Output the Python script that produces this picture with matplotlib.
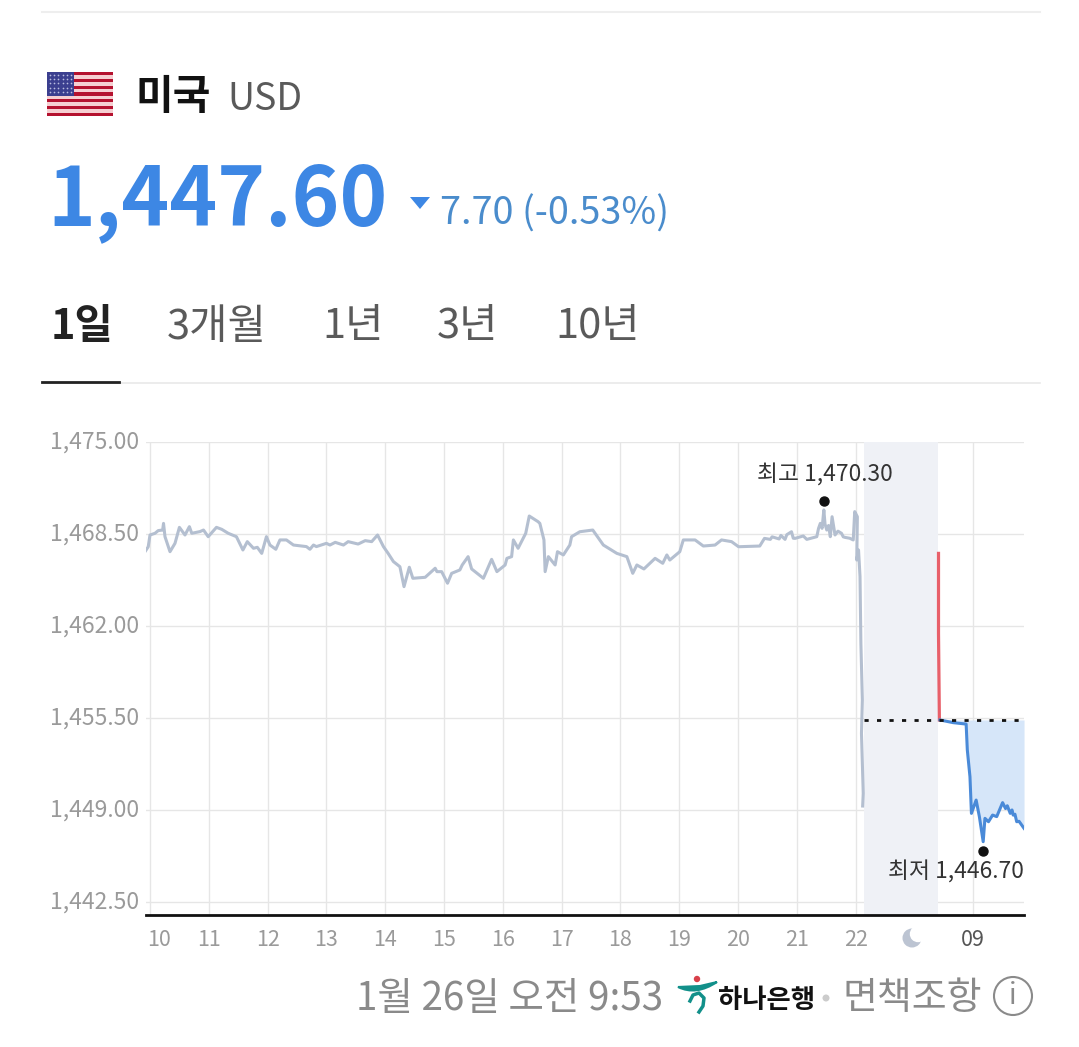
import matplotlib
matplotlib.use("Agg")
import matplotlib.pyplot as plt
from matplotlib.patches import Rectangle, Circle, Polygon, PathPatch
from matplotlib.path import Path
from matplotlib.transforms import ScaledTranslation

plt.rcParams['font.family'] = ['Noto Sans CJK KR', 'DejaVu Sans']

W, H = 1079, 1047

# hours since the 10 o'clock tick / price
gray_hours = [-0.085, -0.03, 0.0, 0.085, 0.14, 0.215, 0.23, 0.255, 0.34, 0.425, 0.50, 0.595, 0.67, 0.71, 0.85, 0.91, 0.99,
              1.13, 1.22, 1.33, 1.47, 1.58, 1.655, 1.76, 1.825, 1.90, 1.98, 2.04, 2.14, 2.21, 2.32, 2.44, 2.66, 2.72, 2.78,
              2.83, 3.00, 3.06, 3.15, 3.29, 3.37, 3.54, 3.66, 3.77, 3.87, 3.97, 4.05, 4.14, 4.25, 4.32, 4.41, 4.47, 4.68,
              4.85, 4.88, 4.96, 5.06, 5.13, 5.27, 5.31, 5.41, 5.47, 5.67, 5.81, 5.90, 6.04, 6.07, 6.15, 6.18, 6.26, 6.39,
              6.45, 6.60, 6.63, 6.70, 6.72, 6.775, 6.89, 6.93, 7.03, 7.14, 7.17, 7.31, 7.53, 7.71, 7.94, 8.11, 8.21, 8.28,
              8.40, 8.59, 8.72, 8.79, 8.84, 9.01, 9.07, 9.27, 9.41, 9.61, 9.72, 9.89, 10.01, 10.37,
              10.45, 10.55, 10.58, 10.70, 10.73, 10.80, 10.83, 10.91, 10.94, 10.97, 11.11, 11.17, 11.34, 11.37, 11.40,
              11.43, 11.46, 11.48, 11.51, 11.54, 11.57, 11.60, 11.65, 11.70, 11.76, 11.79, 11.82, 11.90, 11.96,
              11.985, 12.03, 12.02, 12.05, 12.075, 12.09, 12.115, 12.10, 12.13, 12.12]
gray_price = [1467.25, 1467.6, 1468.43, 1468.55, 1468.74, 1468.78, 1469.25, 1468.31, 1467.25, 1467.84, 1468.97, 1468.43,
              1469.02, 1468.55, 1468.67, 1468.78, 1468.31, 1468.97, 1468.83, 1468.55, 1468.31, 1467.37, 1467.96, 1467.49,
              1467.56, 1467.13, 1468.31, 1467.72, 1467.42, 1468.08, 1468.08, 1467.72, 1467.61, 1467.42, 1467.72, 1467.61,
              1467.84, 1467.72, 1467.91, 1467.72, 1467.96, 1467.79, 1468.03, 1467.96, 1468.43, 1467.61, 1467.13, 1466.55,
              1466.19, 1464.78, 1466.15, 1465.37, 1465.44, 1466.08, 1465.84, 1465.84, 1465.02, 1465.72, 1465.96, 1466.31,
              1466.9, 1466.03, 1465.37, 1466.71, 1465.84, 1466.31, 1466.78, 1466.9, 1468.08, 1467.49, 1468.55, 1469.77,
              1469.37, 1469.25, 1468.08, 1465.84, 1466.9, 1466.31, 1467.25, 1467.02, 1467.72, 1468.31, 1468.66, 1468.78,
              1467.72, 1467.13, 1466.9, 1465.72, 1466.31, 1466.03, 1466.78, 1466.43, 1467.02, 1466.66, 1467.25, 1468.08,
              1468.08, 1467.65, 1467.72, 1468.08, 1467.96, 1467.6, 1467.65,
              1468.19, 1468.12, 1468.3, 1468.15, 1468.4, 1468.12, 1468.45, 1468.66, 1468.2, 1468.19, 1468.36, 1468.12,
              1468.31, 1468.9, 1469.25, 1468.9, 1470.2, 1469.2, 1468.78, 1469.1, 1468.31, 1469.72, 1468.43, 1468.7,
              1468.55, 1468.3, 1468.26, 1468.2, 1468.08,
              1470.08, 1469.72, 1466.66, 1467.37, 1465.5, 1460.77, 1456.77, 1454.41, 1450.17, 1449.28]

red_hours = [13.41, 13.41, 13.425]
red_price = [1467.13, 1461.48, 1455.36]

blue_hours = [13.435, 13.66, 13.88, 13.90, 13.945, 13.97, 14.05, 14.105, 14.17, 14.20, 14.26, 14.33, 14.40, 14.50, 14.55,
              14.58, 14.63, 14.66, 14.68, 14.71, 14.74, 14.78, 14.865]
blue_price = [1455.36, 1455.17, 1455.07, 1453.24, 1451.35, 1448.76, 1449.7, 1448.53, 1446.76, 1448.41, 1448.17, 1448.64,
              1448.53, 1449.52, 1449.1, 1449.3, 1448.76, 1449.0, 1448.64, 1448.7, 1448.17, 1448.2, 1447.7]

base_price = 1455.36
high = (11.46, 1470.3)
low = (14.17, 1446.7)
night = (12.14, 13.40)

y_ticks = [1475.0, 1468.5, 1462.0, 1455.5, 1449.0, 1442.5]
x_ticks = [0, 1, 2, 3, 4, 5, 6, 7, 8, 9, 10, 11, 12, 14]
x_labels = ['10', '11', '12', '13', '14', '15', '16', '17', '18', '19', '20', '21', '22', '09']
tabs = ['1일', '3개월', '1년', '3년', '10년']
tab_x = [51, 167, 322, 437, 555]

fig = plt.figure(figsize=(W / 100, H / 100), dpi=100)

# page, in pixels
bg = fig.add_axes([0, 0, 1, 1])
bg.set_xlim(0, W)
bg.set_ylim(H, 0)
bg.axis('off')


def txt(x, y, s, size, color, ha='left', weight='normal'):
    bg.text(x, y, s, fontsize=size, color=color, ha=ha, va='center', fontweight=weight)


bg.plot([42, 1040], [12, 12], color='#eeeeee', lw=1.5)
bg.plot([42, 1040], [383, 383], color='#e9e9e9', lw=1.2)
bg.plot([42, 119], [382, 382], color='#222222', lw=2)

# flag
for i in range(13):
    c = '#b5122f' if i % 2 == 0 else '#f6cfd2'
    bg.add_patch(Rectangle((47, 72 + i * 44 / 13), 66, 44 / 13, color=c, lw=0))
bg.add_patch(Rectangle((47, 72), 27, 23.5, color='#3b3f8f', lw=0))
star_x = [50 + 4.2 * i for i in range(6)]
star_y = [75 + 4.2 * j for j in range(5)]
bg.scatter([a for a in star_x for b in star_y], [b for a in star_x for b in star_y], s=1.5, color='#b9bce0', lw=0)

txt(135, 97, '미국', 29.5, '#111111', weight='bold')
txt(227, 99, 'USD', 27, '#5a5a5a')
txt(47, 201, '1,447.60', 58.5, '#3d87e4', weight='bold')
bg.add_patch(Polygon([[410, 197], [430, 197], [420, 209]], color='#3d87e4', lw=0))
txt(440, 214, '7.70 (-0.53%)', 27.2, '#4a8ccc')

for i in range(len(tabs)):
    if i == 0:
        txt(tab_x[i], 327, tabs[i], 30, '#222222', weight='bold')
    else:
        txt(tab_x[i], 327, tabs[i], 30, '#5a5a5a')

# footer
txt(356, 999, '1월 26일 오전 9:53', 27.8, '#8a8a8a')
bg.add_patch(PathPatch(Path([(678, 987), (696, 996), (717, 982), (700, 986), (678, 987)],
                            [Path.MOVETO, Path.CURVE3, Path.CURVE3, Path.LINETO, Path.CLOSEPOLY]),
                       color='#12908a', lw=1.5))
bg.add_patch(Circle((697, 979), 3.2, color='#d8404a', lw=0))
bg.plot([690, 693, 699, 704, 703, 699], [1001, 995, 993, 998, 1006, 1012], color='#12908a', lw=2.5)
txt(718, 1001, '하나은행', 19, '#111111', weight='bold')
bg.add_patch(Circle((826, 998), 3.5, color='#cccccc', lw=0))
txt(842, 999, '면책조항', 27.3, '#8a8a8a')
bg.add_patch(Circle((1013, 996), 19, fc='none', ec='#8a8a8a', lw=1.5))
bg.text(1013, 996, 'i', fontsize=20, color='#8a8a8a', ha='center', va='center')

# chart
ax = fig.add_axes([146 / W, 1 - 915 / H, (1024 - 146) / W, (915 - 442) / H])
ax.patch.set_alpha(0)
ax.set_xlim(-0.068, 14.864)
ax.set_ylim(1441.58, 1475.0)
for s in ax.spines.values():
    s.set_visible(False)
ax.spines['bottom'].set_visible(True)
ax.spines['bottom'].set_color('#111111')
ax.spines['bottom'].set_linewidth(2)
ax.spines['bottom'].set_zorder(6)

ax.axvspan(night[0], night[1], color='#eff1f6', lw=0, zorder=1)
ax.set_yticks(y_ticks)
ax.set_yticklabels([f'{v:,.2f}' for v in y_ticks], fontsize=16.5, color='#9a9a9a')
ax.set_xticks(x_ticks)
ax.set_xticklabels([])
ax.tick_params(length=0, pad=5)
ax.grid(color='#e6e6e6', lw=1, zorder=0)
ax.set_axisbelow(True)
for lab in ax.get_yticklabels():
    lab.set_transform(lab.get_transform() + ScaledTranslation(0, 2 / 100, fig.dpi_scale_trans))

ax.plot(gray_hours, gray_price, color='#b4bfd0', lw=2.2, zorder=3)
ax.fill_between(blue_hours, blue_price, base_price, color='#d6e6f9', lw=0, zorder=2)
ax.plot(red_hours, red_price, color='#e8606a', lw=2.3, zorder=3)
ax.plot(blue_hours, blue_price, color='#4a8ad8', lw=2.2, zorder=4)
ax.plot([night[0], 14.864], [base_price, base_price], color='#111111', lw=2, ls=(0, (1.5, 3)), zorder=5)

ax.plot([high[0]], [high[1]], 'o', ms=6.5, color='#111111', zorder=5,
        transform=ax.transData + ScaledTranslation(0, 8 / 100, fig.dpi_scale_trans))
ax.plot([low[0]], [low[1]], 'o', ms=6.5, color='#111111', zorder=5,
        transform=ax.transData + ScaledTranslation(0, -8 / 100, fig.dpi_scale_trans))
ax.annotate(f'최고 {high[1]:,.2f}', high, xytext=(1, 33), textcoords='offset pixels', ha='center', va='center',
            fontsize=16.4, color='#333333', zorder=6)
ax.annotate(f'최저 {low[1]:,.2f}', low, xytext=(41, -30), textcoords='offset pixels', ha='right', va='center',
            fontsize=16.4, color='#333333', zorder=6)

for i in range(len(x_ticks)):
    dx = 9 if i == 0 else 0
    c = '#555555' if x_labels[i] == '09' else '#9a9a9a'
    ax.annotate(x_labels[i], (x_ticks[i], 0), xycoords=ax.get_xaxis_transform(), xytext=(dx, -25),
                textcoords='offset pixels', ha='center', va='center', fontsize=15.5, color=c)

# moon
bg.add_patch(Circle((912, 938), 9.5, color='#bcc4d2', lw=0, zorder=8))
bg.add_patch(Circle((918, 934), 8.2, color='white', lw=0, zorder=9))

fig.savefig('out.png', dpi=100)
